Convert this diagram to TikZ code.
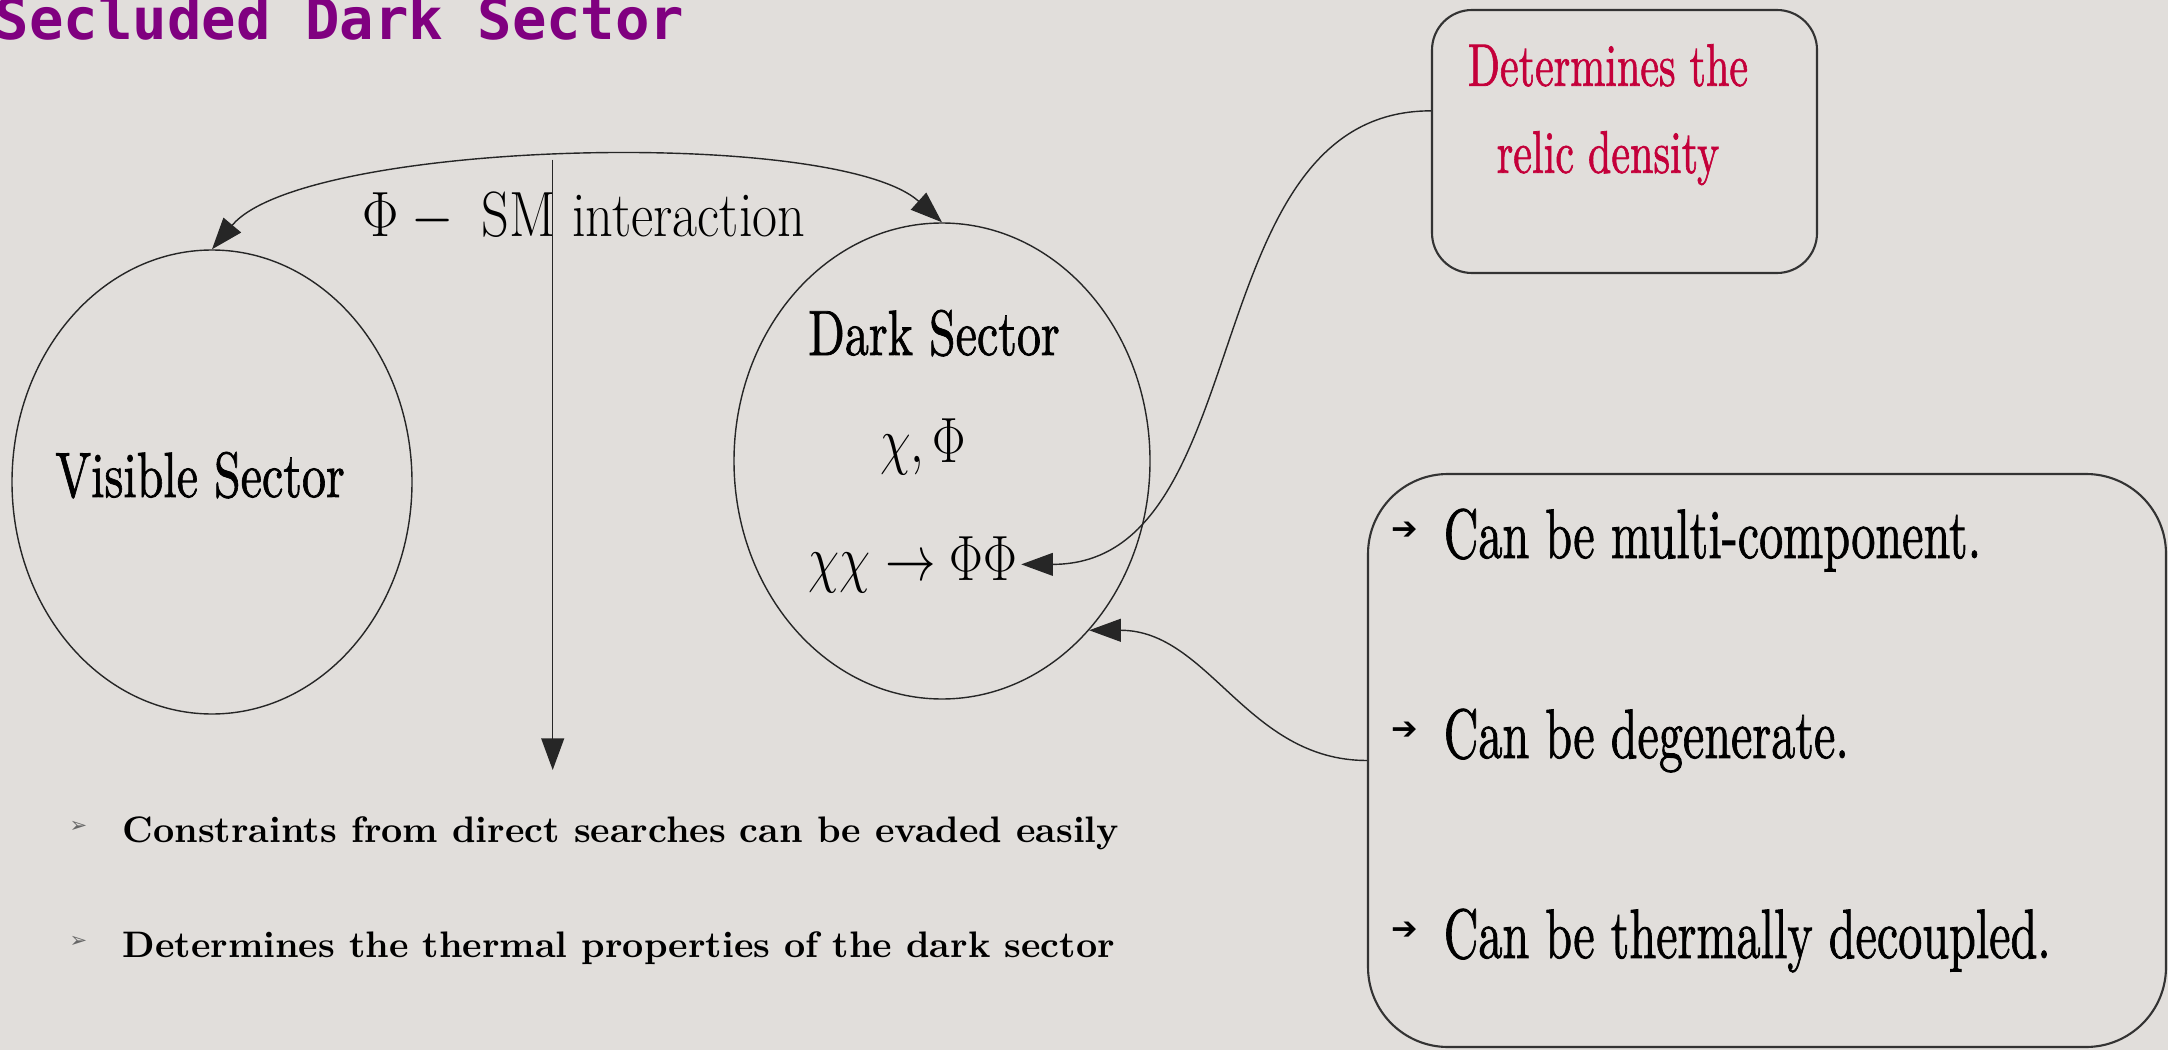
\documentclass[tikz,border=0pt]{standalone}
\usepackage{fix-cm}
\usepackage{fontspec}
\usepackage{graphicx}
\usetikzlibrary{shapes.geometric, arrows.meta, positioning}
\newfontfamily\titlefont{DejaVu Sans Mono}
\newfontfamily\dingfont{DejaVu Sans}
\newfontfamily\inkfont{lmroman10-regular.otf}[FakeBold=1.3]
\definecolor{paper}{RGB}{225,222,219}
\definecolor{titlepurple}{RGB}{128,0,128}
\definecolor{relicred}{RGB}{196,0,58}
\newcommand{\squeeze}[2][0.75]{\scalebox{#1}[1]{#2}}

\begin{document}
\begin{tikzpicture}[
  sector/.style={draw=black!85, thin, ellipse, inner sep=0pt},
  note/.style={draw=black!80, line width=0.6pt, rectangle},
  lbl/.style={inner sep=1pt, font=\inkfont\fontsize{18.2}{22}\selectfont},
  item/.style={inner sep=0pt, anchor=base west, font=\inkfont\fontsize{19.9}{24}\selectfont},
  point/.style={inner sep=0pt, anchor=base west, font=\fontsize{10.5}{12}\selectfont\bfseries},
  arrbul/.style={inner sep=0pt, font=\dingfont\fontsize{9}{10}\selectfont},
  ptbul/.style={inner sep=0pt, text=black!60, font=\dingfont\fontsize{6}{7}\selectfont},
  arrow/.style={draw=black!85, thin, -{Triangle[length=9pt, width=6.5pt]}},
  dblarrow/.style={arrow, {Triangle[length=9pt, width=6.5pt]}-{Triangle[length=9pt, width=6.5pt]}}
]
% background
\fill[paper] (0,0) rectangle (21.68,10.5);
\useasboundingbox (0,0) rectangle (21.68,10.5);
\node[anchor=base west, inner sep=0pt, text=titlepurple, font=\titlefont\bfseries\fontsize{16.3}{18}\selectfont] (title) at (-0.06,10.10) {Secluded Dark Sector};
% sectors
\node[sector, minimum width=4cm, minimum height=4.64cm] (vis) at (2.12,5.68) {};
\node[lbl, anchor=base] (visname) at (2.00,5.53) {\squeeze{Visible Sector}};
\node[sector, minimum width=4.16cm, minimum height=4.76cm] (dark) at (9.42,5.89) {};
\node[lbl, anchor=base] (darkname) at (9.34,6.95) {\squeeze{Dark Sector}};
\node[lbl, anchor=base] (fields) at (9.23,5.88) {\squeeze[0.78]{$\chi,\Phi$}};
\node[lbl, anchor=base] (annih) at (9.13,4.70) {\squeeze[0.79]{$\chi\chi\rightarrow\Phi\Phi$}};
% interaction
\draw[dblarrow] (vis.north) to[out=50, in=138, looseness=0.5] node[coordinate, pos=0.48] (peak) {} (dark.north);
\node[inner sep=1pt, font=\fontsize{18.2}{22}\selectfont, anchor=base] (inter) at (5.84,8.13) {\squeeze[0.85]{$\Phi - {}$ SM interaction}};
\coordinate (drop) at (5.57,2.80);
\draw[arrow] (peak) -- (peak |- drop);
% relic density
\node[note, rounded corners=0.4cm, minimum width=3.85cm, minimum height=2.63cm] (relic) at (16.245,9.085) {};
\node[anchor=north, align=center, text=relicred, inner sep=0pt, font=\inkfont\fontsize{17.1}{24.75}\selectfont] (relictext) at (16.08,10.066) {\squeeze[0.70]{Determines the}\\\squeeze[0.70]{relic density}};
% properties
\node[note, rounded corners=0.8cm, minimum width=7.98cm, minimum height=5.73cm] (traits) at (17.67,2.895) {};
\node[item] (multi) at (14.43,4.92) {\squeeze[0.688]{Can be multi-component.}};
\node[item] (degen) at (14.43,2.92) {\squeeze[0.688]{Can be degenerate.}};
\node[item] (decoup) at (14.43,0.92) {\squeeze[0.688]{Can be thermally decoupled.}};
\foreach \t in {multi,degen,decoup}
  \node[arrbul, left=0.24cm of \t.base west, yshift=0.27cm] {➔};
% consequences
\node[point] (evade) at (1.22,2.08) {Constraints from direct searches can be evaded easily};
\node[point] (thermal) at (1.22,0.93) {Determines the thermal properties of the dark sector};
\foreach \t in {evade,thermal}
  \node[ptbul, left=0.34cm of \t.base west, yshift=0.15cm] {➢};
% links
\draw[arrow] (relic.171) to[out=180, in=0] (annih.east);
\draw[arrow] (traits.west) to[out=180, in=0] (dark.-49);
\end{tikzpicture}
\end{document}
